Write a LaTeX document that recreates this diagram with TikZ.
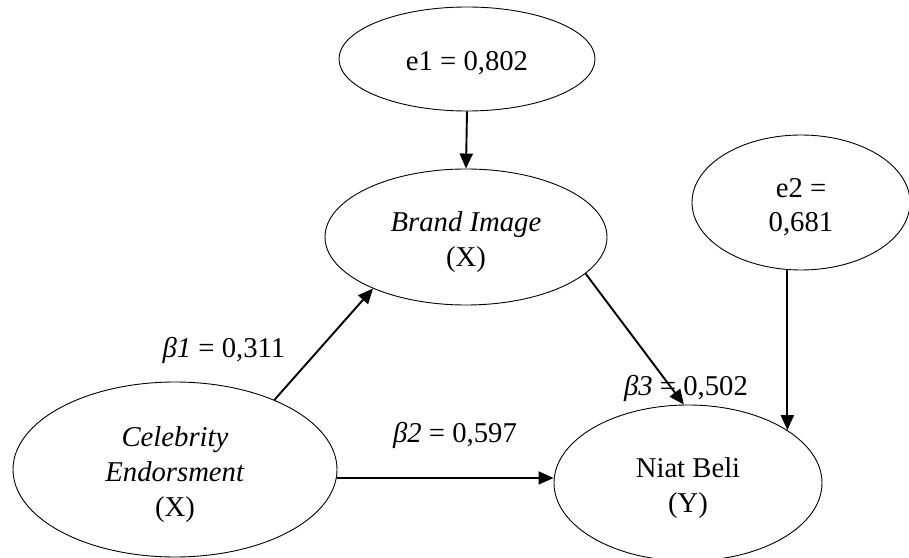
\documentclass[tikz,border=0pt]{standalone}
\usepackage{fontspec}
\setmainfont{Liberation Serif}
\usetikzlibrary{arrows.meta,shapes.geometric}
\newcommand\mytxt[1]{\raisebox{-5bp}[\height][\depth]{\begin{tabular}{@{}c@{}}#1\end{tabular}}}
\begin{document}
\begin{tikzpicture}[x=1bp,y=-1bp,
  ell/.style={ellipse,draw,line width=0.9bp,inner sep=0pt,
    font=\fontsize{28.8}{35}\selectfont},
  lbl/.style={anchor=base,inner sep=0pt,font=\fontsize{28.8}{35}\selectfont},
  arr/.style={line width=1.9bp,-{Triangle[length=15bp,width=13bp]}}]
\useasboundingbox (0,0) rectangle (909,558);
\node[ell,minimum width=256bp,minimum height=104bp] (e1) at (467,59) {\mytxt{e1 = 0,802}};
\node[ell,minimum width=282bp,minimum height=136bp] (brand) at (466,237) {\mytxt{\textit{Brand Image}\\(X)}};
\node[ell,minimum width=218bp,minimum height=135bp] (e2) at (801,202.5) {\mytxt{e2 =\\0,681}};
\node[ell,minimum width=324bp,minimum height=175bp] (celeb) at (175,469.5) {\mytxt{\textit{Celebrity}\\\textit{Endorsment}\\(X)}};
\node[ell,minimum width=268bp,minimum height=156bp] (niat) at (688,483) {\mytxt{Niat Beli\\(Y)}};

\draw[arr] (e1.south) -- (brand.north);
\draw[arr] (celeb.35) -- (brand.209.5);
\draw[arr] (brand.-17) -- (niat.93);
\draw[arr] (celeb.-3) -- (niat.west |- celeb.-3);
\draw[arr] (e2.south -| niat.28) -- (niat.28);

\node[lbl] (b1) at (224,358) {\textit{β1} = 0,311};
\node[lbl] (b2) at (455,442) {\textit{β2} = 0,597};
\node[lbl] (b3) at (686,395) {\textit{β3} = 0,502};
\end{tikzpicture}
\end{document}
